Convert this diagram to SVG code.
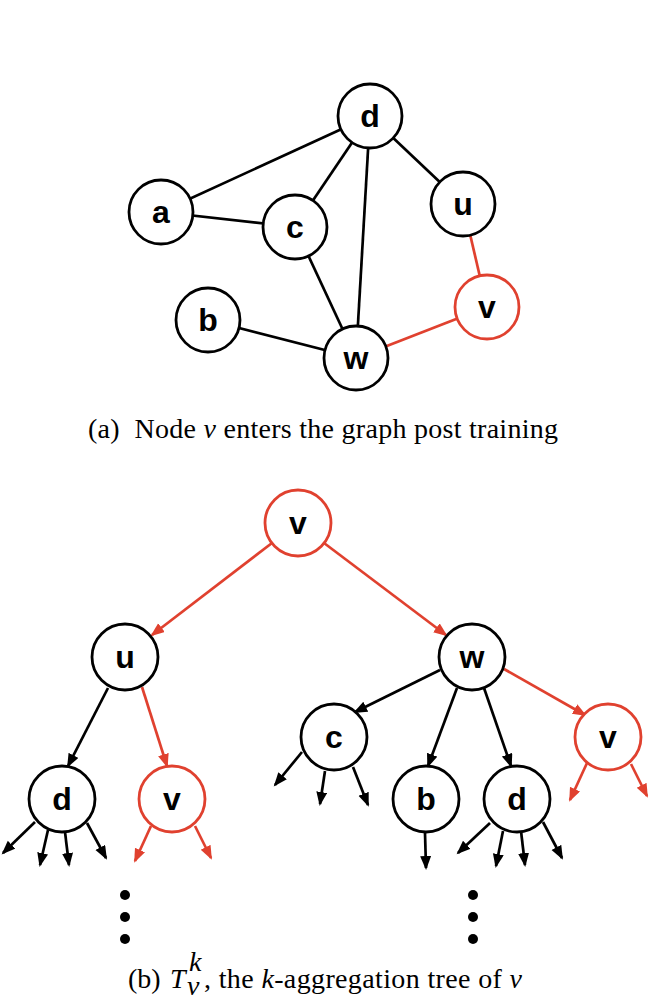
<svg xmlns="http://www.w3.org/2000/svg" width="650" height="1000" viewBox="0 0 650 1000">
<style>
.n{fill:#fff;stroke:#000;stroke-width:2.8}
.r{fill:#fff;stroke:#e0412f;stroke-width:2.8}
.lbl{font-family:"Liberation Sans",Arial,sans-serif;font-weight:bold;font-size:32px;text-anchor:middle;fill:#000}
.e{stroke:#000;stroke-width:2.7;fill:none}
.er{stroke:#e0412f;stroke-width:2.7;fill:none}
.ab{stroke:#000;stroke-width:2.7;fill:none;marker-end:url(#mb)}
.ar{stroke:#e0412f;stroke-width:2.7;fill:none;marker-end:url(#mr)}
.cap{font-family:"Liberation Serif","Times New Roman",serif;font-size:28px;fill:#000}
.dot{fill:#000}
</style>
<defs>
<marker id="mb" markerUnits="userSpaceOnUse" markerWidth="15" markerHeight="12" refX="12" refY="5.5" orient="auto"><path d="M0,0 L14,5.5 L0,11 z" fill="#000"/></marker>
<marker id="mr" markerUnits="userSpaceOnUse" markerWidth="15" markerHeight="12" refX="12" refY="5.5" orient="auto"><path d="M0,0 L14,5.5 L0,11 z" fill="#e0412f"/></marker>
</defs>
<rect width="650" height="1000" fill="#fff"/>

<!-- (a) graph -->
<g id="edges-a">
<line class="e" x1="161" y1="212" x2="370" y2="116"/>
<line class="e" x1="161" y1="212" x2="295" y2="227"/>
<line class="e" x1="295" y1="227" x2="370" y2="116"/>
<line class="e" x1="370" y1="116" x2="356" y2="358"/>
<line class="e" x1="370" y1="116" x2="463" y2="204"/>
<line class="e" x1="295" y1="227" x2="356" y2="358"/>
<line class="e" x1="208" y1="320" x2="356" y2="358"/>
<line class="er" x1="463" y1="204" x2="487" y2="307"/>
<line class="er" x1="356" y1="358" x2="487" y2="307"/>
</g>
<g id="a-d"><circle class="n" cx="370" cy="116" r="32"/><text class="lbl" x="370" y="127">d</text></g>
<g id="a-a"><circle class="n" cx="161" cy="212" r="32"/><text class="lbl" x="161" y="223">a</text></g>
<g id="a-c"><circle class="n" cx="295" cy="227" r="32"/><text class="lbl" x="295" y="238">c</text></g>
<g id="a-u"><circle class="n" cx="463" cy="204" r="32"/><text class="lbl" x="463" y="215">u</text></g>
<g id="a-b"><circle class="n" cx="208" cy="320" r="32"/><text class="lbl" x="208" y="331">b</text></g>
<g id="a-w"><circle class="n" cx="356" cy="358" r="32"/><text class="lbl" x="356" y="369">w</text></g>
<g id="a-v"><circle class="r" cx="487" cy="307" r="32"/><text class="lbl" x="487" y="318">v</text></g>

<text class="cap" x="88" y="438" xml:space="preserve" textLength="470" lengthAdjust="spacing">(a)  Node <tspan font-style="italic">v</tspan> enters the graph post training</text>

<!-- (b) tree -->
<g id="edges-b">
<line class="ar" x1="272" y1="543" x2="152" y2="635"/>
<line class="ar" x1="324" y1="543" x2="446" y2="635"/>
<line class="ab" x1="108" y1="688" x2="68" y2="766"/>
<line class="ar" x1="142" y1="687" x2="167" y2="766"/>
<line class="ab" x1="440" y1="670" x2="355" y2="712"/>
<line class="ab" x1="457" y1="688" x2="428" y2="766"/>
<line class="ab" x1="484" y1="688" x2="511" y2="766"/>
<line class="ar" x1="504" y1="669" x2="585" y2="715"/>
<line class="ab" x1="35" y1="822" x2="3" y2="853"/>
<line class="ab" x1="48" y1="830" x2="40" y2="865"/>
<line class="ab" x1="65" y1="832" x2="69" y2="865"/>
<line class="ab" x1="87" y1="823" x2="106" y2="858"/>
<line class="ar" x1="151" y1="826" x2="135" y2="861"/>
<line class="ar" x1="195" y1="826" x2="211" y2="858"/>
<line class="ab" x1="302" y1="752" x2="275" y2="785"/>
<line class="ab" x1="325" y1="771" x2="320" y2="804"/>
<line class="ab" x1="353" y1="767" x2="368" y2="805"/>
<line class="ab" x1="425" y1="833" x2="426" y2="868"/>
<line class="ab" x1="490" y1="823" x2="458" y2="853"/>
<line class="ab" x1="503" y1="831" x2="496" y2="866"/>
<line class="ab" x1="521" y1="831" x2="525" y2="865"/>
<line class="ab" x1="543" y1="822" x2="562" y2="858"/>
<line class="ar" x1="587" y1="763" x2="570" y2="800"/>
<line class="ar" x1="631" y1="764" x2="647" y2="796"/>
</g>
<g id="t-v-root"><circle class="r" cx="298" cy="523" r="33"/><text class="lbl" x="298" y="534">v</text></g>
<g id="t-u"><circle class="n" cx="125" cy="657" r="33"/><text class="lbl" x="125" y="668">u</text></g>
<g id="t-w"><circle class="n" cx="472" cy="657" r="33"/><text class="lbl" x="472" y="668">w</text></g>
<g id="t-c"><circle class="n" cx="334" cy="737" r="33"/><text class="lbl" x="334" y="748">c</text></g>
<g id="t-v-right"><circle class="r" cx="608" cy="737" r="33"/><text class="lbl" x="608" y="748">v</text></g>
<g id="t-d-left"><circle class="n" cx="62" cy="799" r="33"/><text class="lbl" x="62" y="810">d</text></g>
<g id="t-v-left"><circle class="r" cx="172" cy="799" r="33"/><text class="lbl" x="172" y="810">v</text></g>
<g id="t-b"><circle class="n" cx="426" cy="799" r="33"/><text class="lbl" x="426" y="810">b</text></g>
<g id="t-d-right"><circle class="n" cx="517" cy="799" r="33"/><text class="lbl" x="517" y="810">d</text></g>

<g id="dots">
<circle class="dot" cx="125" cy="895" r="5"/><circle class="dot" cx="125" cy="917" r="5"/><circle class="dot" cx="125" cy="939" r="5"/>
<circle class="dot" cx="473" cy="895" r="5"/><circle class="dot" cx="473" cy="917" r="5"/><circle class="dot" cx="473" cy="939" r="5"/>
</g>

<text class="cap" x="128" y="988">(b)</text>
<text class="cap" x="170" y="988" font-style="italic">T</text>
<text class="cap" x="187" y="995" font-style="italic" font-size="17">v</text>
<text class="cap" x="189" y="971" font-style="italic" font-size="17">k</text>
<text class="cap" x="204" y="988" textLength="318" lengthAdjust="spacing">, the <tspan font-style="italic">k</tspan>-aggregation tree of <tspan font-style="italic">v</tspan></text>
</svg>
